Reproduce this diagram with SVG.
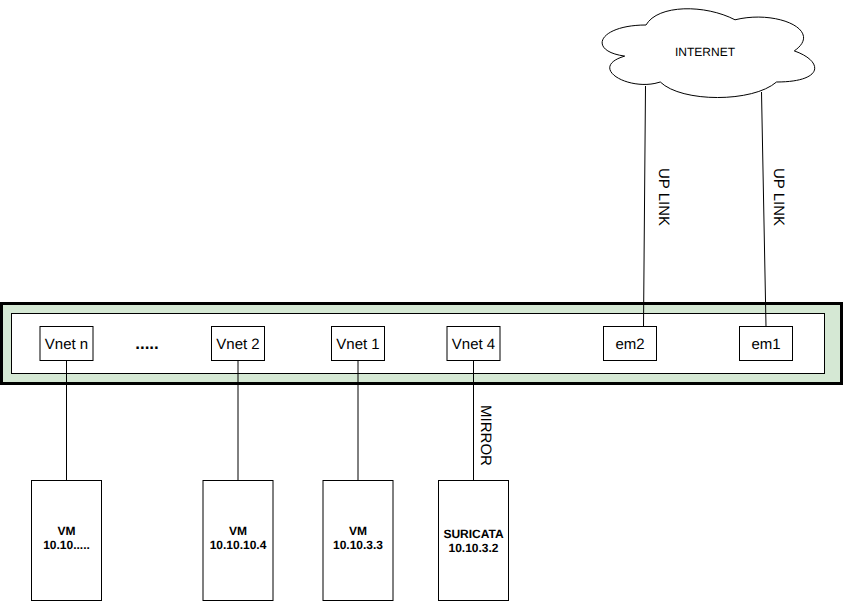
<svg xmlns="http://www.w3.org/2000/svg" width="843" height="601" viewBox="0 0 843 601">
<style>
.b{fill:#fff;stroke:#000;stroke-width:1}
.c{fill:none;stroke:#000;stroke-width:1}
text{font-family:"Liberation Sans",Arial,sans-serif;fill:#000;text-anchor:middle;text-rendering:geometricPrecision}
.n{font-size:15px}
.v{font-size:12px;font-weight:bold}
.l{font-size:15px}
</style>
<rect width="843" height="601" fill="#fff"/>
<g id="switch-outer"><rect x="1.500" y="303.500" width="840" height="80" fill="#d5e8d4" stroke="#000" stroke-width="3"/></g>
<g id="switch-inner"><rect x="11.500" y="313.500" width="813" height="60" class="b"/></g>
<g id="connectors">
<path class="c" d="M645.500 86L643.500 326.500"/>
<path class="c" d="M761.500 92L766 326.500"/>
<path class="c" d="M66.500 360.500V480.500"/>
<path class="c" d="M238 360.500V480.500"/>
<path class="c" d="M358 360.500V480.500"/>
<path class="c" d="M473.500 360.500V480.500"/>
</g>
<g id="internet">
<path class="b" d="M646 25C598.600 25 586.700 50.900 624.700 56.100C586.700 67.500 629.400 92.300 660.300 82C681.600 102.700 752.800 102.700 776.500 82C824 82 824 61.300 794.300 50.900C824 30.200 776.500 9.500 735 19.800C705.350 4.300 657.900 4.300 646 25Z"/>
<text x="705" y="56" font-size="12px">INTERNET</text>
</g>
<g id="vnet-n"><rect x="40" y="326.500" width="53" height="34" class="b"/><text class="n" x="66.500" y="349">Vnet n</text></g>
<g id="dots"><text x="147" y="349" font-size="17px" font-weight="bold">.....</text></g>
<g id="vnet-2"><rect x="211.500" y="326.500" width="53" height="34" class="b"/><text class="n" x="238" y="349">Vnet 2</text></g>
<g id="vnet-1"><rect x="331.500" y="326.500" width="53" height="34" class="b"/><text class="n" x="358" y="349">Vnet 1</text></g>
<g id="vnet-4"><rect x="447" y="326.500" width="53" height="34" class="b"/><text class="n" x="473.500" y="349">Vnet 4</text></g>
<g id="em2"><rect x="603.500" y="326.500" width="53" height="34" class="b"/><text class="n" x="630" y="349">em2</text></g>
<g id="em1"><rect x="739.500" y="326.500" width="53" height="34" class="b"/><text class="n" x="766" y="349">em1</text></g>
<g id="vm-n"><rect x="31.500" y="480.500" width="70" height="120" class="b"/><text class="v" x="66.500" y="535">VM</text><text class="v" x="66.500" y="549">10.10.....</text></g>
<g id="vm-4"><rect x="203" y="480.500" width="70" height="120" class="b"/><text class="v" x="238" y="535">VM</text><text class="v" x="238" y="549">10.10.10.4</text></g>
<g id="vm-3"><rect x="323" y="480.500" width="70" height="120" class="b"/><text class="v" x="358" y="535">VM</text><text class="v" x="358" y="549">10.10.3.3</text></g>
<g id="suricata"><rect x="438.500" y="480.500" width="70" height="120" class="b"/><text class="v" x="473.500" y="538">SURICATA</text><text class="v" x="473.500" y="552">10.10.3.2</text></g>
<g id="labels">
<text class="l" transform="translate(659 197) rotate(90)">UP LINK</text>
<text class="l" transform="translate(774 197) rotate(90)">UP LINK</text>
<text class="l" transform="translate(481 435.500) rotate(90)">MIRROR</text>
</g>
</svg>
